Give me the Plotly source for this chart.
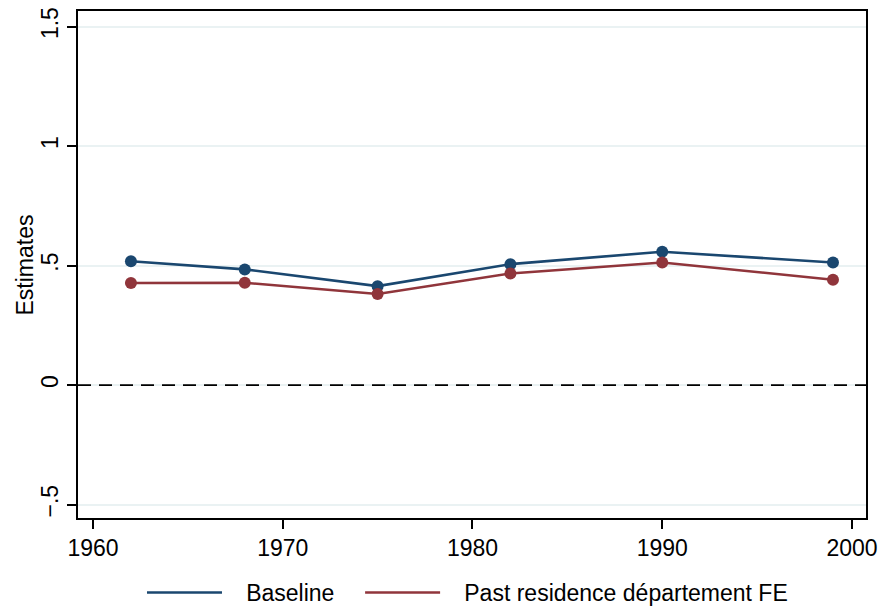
import plotly.graph_objects as go

years = [1962, 1968, 1975, 1982, 1990, 1999]
baseline = [0.518, 0.484, 0.414, 0.506, 0.558, 0.513]
past_residence = [0.427, 0.428, 0.381, 0.467, 0.513, 0.441]
x_ticks = [1960, 1970, 1980, 1990, 2000]
y_ticks = [-0.5, 0, 0.5, 1, 1.5]
y_tick_labels = ["\u2212.5", "0", ".5", "1", "1.5"]
series_names = ["Baseline", "Past residence département FE"]
y_title = "Estimates"

blue = "#1a476f"
red = "#90353b"
font_family = "Liberation Sans, Arial, sans-serif"
pad = "\u00a0\u00a0\u00a0"

fig = go.Figure()
for vals, name, col in [(baseline, series_names[0], blue), (past_residence, series_names[1], red)]:
    fig.add_trace(go.Scatter(
        x=years, y=vals, mode="lines+markers", name=name, showlegend=False,
        line=dict(color=col, width=2.6), marker=dict(color=col, size=12),
    ))
for name, col, lg in [(series_names[0], blue, "legend"), (series_names[1], red, "legend2")]:
    fig.add_trace(go.Scatter(
        x=[None], y=[None], mode="lines", name=pad + name, legend=lg,
        line=dict(color=col, width=2.6),
    ))

fig.add_shape(type="line", xref="paper", yref="y", x0=0, x1=1, y0=0, y1=0,
              line=dict(color="black", width=1.8, dash="13px,8px"), layer="above")

fig.add_annotation(text=y_title, xref="paper", yref="paper", x=-0.0673, y=0.5,
                   xanchor="center", yanchor="middle", textangle=-90,
                   showarrow=False, font=dict(size=23))

leg_common = dict(orientation="h", xanchor="left", y=-0.147, yanchor="middle",
                  font=dict(size=23), itemwidth=75, bgcolor="rgba(0,0,0,0)")
fig.update_layout(
    width=882, height=625,
    margin=dict(l=78, r=16, t=11, b=92),
    paper_bgcolor="white", plot_bgcolor="white",
    font=dict(family=font_family, size=23, color="black"),
    showlegend=True,
    legend=dict(x=0.0812, **leg_common),
    legend2=dict(x=0.358, **leg_common),
)
fig.update_xaxes(
    range=[1959.21, 2000.74], tickvals=x_ticks, automargin=False,
    showline=True, linecolor="black", linewidth=1.5, mirror=True,
    ticks="outside", ticklen=9, tickwidth=1.5, tickcolor="black",
    showgrid=False, zeroline=False,
)
fig.update_yaxes(
    range=[-0.556, 1.565], tickvals=y_ticks, ticktext=y_tick_labels,
    tickangle=-90, automargin=False,
    showline=True, linecolor="black", linewidth=1.5, mirror=True,
    ticks="outside", ticklen=9, tickwidth=1.5, tickcolor="black",
    showgrid=True, gridcolor="#eaf2f3", gridwidth=1.5, zeroline=False,
)

post = (
    "var h=document.documentElement,b=document.body;"
    "h.style.margin='0';h.style.padding='0';h.style.overflow='hidden';"
    "b.style.margin='0';b.style.padding='0';b.style.overflow='hidden';"
    "var d=document.getElementById('{plot_id}');"
    "d.style.position='fixed';d.style.left='0px';d.style.top='0px';"
)

fig.write_html("out.html", config={"displayModeBar": False}, post_script=post)
